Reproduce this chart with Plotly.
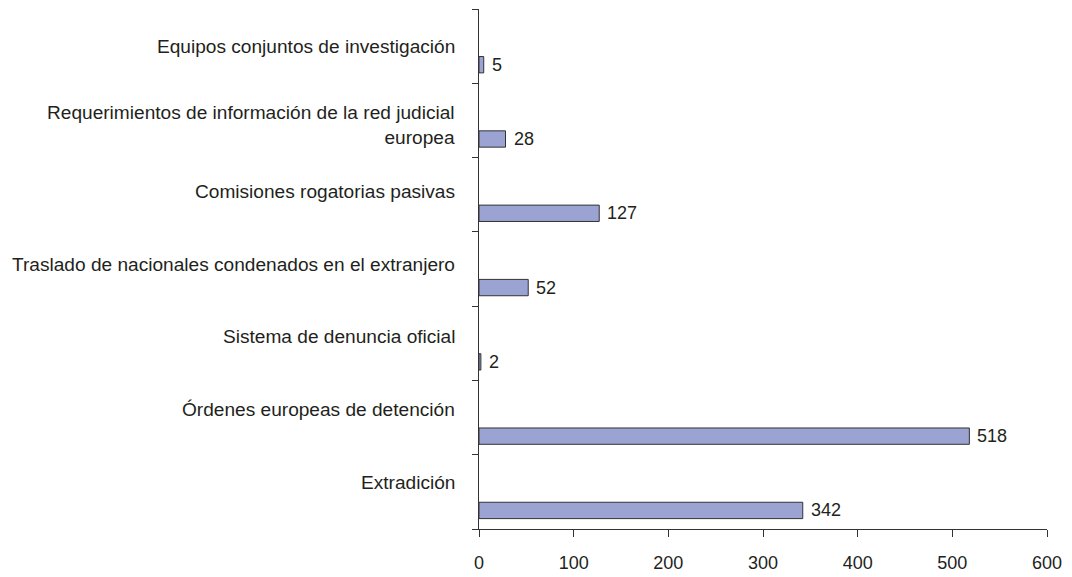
import plotly.graph_objects as go

# Data (bottom to top)
categories = [
    "Extradición",
    "Órdenes europeas de detención",
    "Sistema de denuncia oficial",
    "Traslado de nacionales condenados en el extranjero",
    "Comisiones rogatorias pasivas",
    "Requerimientos de información de la red judicial<br>europea",
    "Equipos conjuntos de investigación",
]
values = [342, 518, 2, 52, 127, 28, 5]
x_ticks = [0, 100, 200, 300, 400, 500, 600]

FONT = "Liberation Sans, Arial, Helvetica, sans-serif"
TXT = "#231f20"
BAR_OFFSET = -0.25
n = len(categories)
pos = list(range(n))
bar_pos = [p + BAR_OFFSET for p in pos]

fig = go.Figure()
fig.add_trace(go.Bar(
    x=values, y=bar_pos, orientation="h", width=0.22,
    marker=dict(color="#9aa3d2", line=dict(color="#333333", width=1)),
    hoverinfo="x",
))

annotations = []
for p, v in zip(bar_pos, values):
    annotations.append(dict(
        x=v, y=p, xref="x", yref="y", text=str(v), showarrow=False,
        xanchor="left", yanchor="middle", xshift=6,
        font=dict(family=FONT, size=18, color=TXT),
    ))
for p, c in zip(pos, categories):
    k = n - 1 - p  # index from the top
    shift = -5 if "<br>" in c else (1.7 * k - 0.5)
    annotations.append(dict(
        x=0, y=p, xref="paper", yref="y", text=c, showarrow=False,
        xanchor="right", yanchor="middle", align="right", xshift=-22,
        yshift=shift,
        font=dict(family=FONT, size=19.1, color=TXT),
    ))

boundaries = [p - 0.5 for p in pos] + [pos[-1] + 0.5]

fig.update_layout(
    width=1064, height=569,
    margin=dict(l=471, r=25, t=1, b=48),
    paper_bgcolor="white", plot_bgcolor="white",
    showlegend=False,
    annotations=annotations,
    xaxis=dict(
        range=[0, 600], tickvals=x_ticks, ticktext=[str(t) for t in x_ticks],
        showgrid=False, zeroline=False,
        showline=True, linecolor="#333333", linewidth=1,
        ticks="outside", ticklen=7, tickcolor="#333333", tickwidth=1,
        tickfont=dict(family=FONT, size=18, color=TXT),
        ticklabelstandoff=10,
    ),
    yaxis=dict(
        range=[-0.5, n - 0.5], tickvals=boundaries,
        ticktext=["" for _ in boundaries],
        showgrid=False, zeroline=False,
        showline=True, linecolor="#333333", linewidth=1,
        ticks="outside", ticklen=6, tickcolor="#333333", tickwidth=1,
    ),
)

fig.write_html("out.html")
